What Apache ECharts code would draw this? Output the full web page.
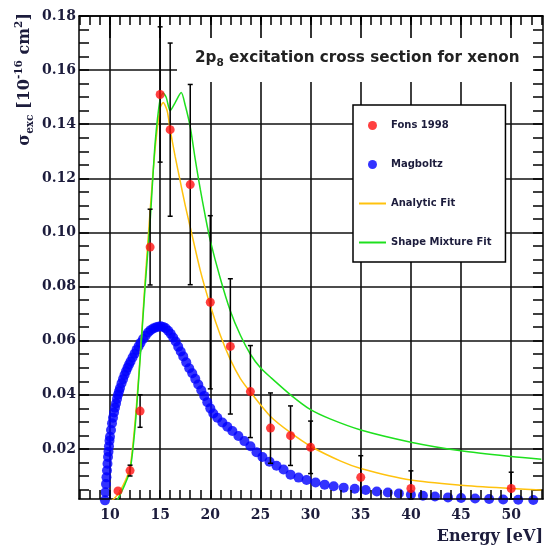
<!DOCTYPE html>
<html>
<head>
    <meta charset="utf-8" />
    <title>2p8 excitation cross section for xenon</title>
    <script src="https://cdn.jsdelivr.net/npm/echarts@6/dist/echarts.min.js"></script>
    <style>
        html, body { margin: 0; padding: 0; background: #fff; }
    </style>
</head>
<body>
    <div id="main" style="width: 547px;height:549px;"></div>
    <script type="text/javascript">
        // Fons 1998 measurement (energy, cross section, error)
        var fonsE = [10.8, 12, 13, 14, 15, 16, 18, 20, 22, 24, 26, 28, 30, 35, 40, 50];
        var fonsS = [0.0045, 0.012, 0.034, 0.0946, 0.151, 0.138, 0.1177, 0.0742, 0.0579, 0.0412, 0.0277, 0.0249, 0.0206, 0.0095, 0.0054, 0.0054];
        var fonsErr = [0, 0.002, 0.006, 0.014, 0.025, 0.032, 0.037, 0.032, 0.025, 0.017, 0.013, 0.011, 0.0097, 0.008, 0.0065, 0.006];

        // Magboltz
        var magE = [9.5, 9.55, 9.6, 9.65, 9.7, 9.75, 9.8, 9.85, 9.9, 9.95, 10.0, 10.1, 10.2, 10.3, 10.4, 10.5, 10.6, 10.7, 10.8, 10.9,
                    11.0, 11.15, 11.3, 11.45, 11.6, 11.75, 11.9, 12.05, 12.25, 12.45, 12.65, 12.85, 13.05, 13.3, 13.55, 13.8, 14.05, 14.3, 14.55, 14.8,
                    15.05, 15.3, 15.55, 15.8, 16.05, 16.3, 16.55, 16.8, 17.05, 17.3, 17.6, 17.9, 18.2, 18.5, 18.8, 19.1, 19.4, 19.7, 20.0, 20.3,
                    20.7, 21.2, 21.7, 22.2, 22.8, 23.4, 24.0, 24.6, 25.2, 25.9, 26.6, 27.3, 28.0, 28.8, 29.6, 30.5, 31.4, 32.3, 33.3, 34.4,
                    35.5, 36.6, 37.7, 38.8, 40.0, 41.2, 42.4, 43.7, 45.0, 46.4, 47.8, 49.2, 50.7, 52.2];
        var magS = [0.001, 0.004, 0.007, 0.0095, 0.012, 0.0145, 0.017, 0.019, 0.021, 0.023, 0.0245, 0.027, 0.0295, 0.0315, 0.0335, 0.0352, 0.0368, 0.0385, 0.040, 0.0413,
                    0.0425, 0.0443, 0.0458, 0.0473, 0.0487, 0.050, 0.0512, 0.0523, 0.0538, 0.0552, 0.0566, 0.0579, 0.0592, 0.0606, 0.0618, 0.063, 0.0639, 0.0645, 0.0649, 0.0652,
                    0.0653, 0.0651, 0.0646, 0.0637, 0.0626, 0.0612, 0.0597, 0.0578, 0.056, 0.0542, 0.052, 0.0498, 0.048, 0.0459, 0.0438, 0.0417, 0.0396, 0.0373, 0.035, 0.0331,
                    0.0315, 0.0298, 0.0282, 0.0266, 0.0248, 0.0229, 0.021, 0.0188, 0.0170, 0.0153, 0.0138, 0.0124, 0.0105, 0.0094, 0.0085, 0.0076, 0.0068, 0.0062, 0.0057, 0.0053,
                    0.0048, 0.0043, 0.0039, 0.0035, 0.0031, 0.0027, 0.0024, 0.0021, 0.0019, 0.0017, 0.0015, 0.0013, 0.0012, 0.0011];

        // Analytic fit
        var anaE = [10.0, 10.5, 11.0, 11.5, 12.0, 12.5, 13.0, 13.5, 14.0, 14.5, 15.0, 15.3, 15.7, 16.0, 16.5, 17.0, 17.5, 18.0, 19.0, 20.0,
                    21.0, 22.0, 23.0, 24.0, 26.0, 28.0, 30.0, 33.0, 35.0, 40.0, 45.0, 50.0, 53.0];
        var anaS = [0.0005, 0.002, 0.0045, 0.008, 0.013, 0.030, 0.054, 0.082, 0.108, 0.131, 0.146, 0.148, 0.145, 0.138, 0.128, 0.119, 0.110, 0.102, 0.086, 0.073,
                    0.062, 0.053, 0.046, 0.041, 0.032, 0.026, 0.021, 0.0155, 0.0128, 0.0085, 0.0066, 0.0054, 0.0048];

        // Shape mixture fit
        var mixE = [10.7, 11.0, 11.5, 12.0, 12.5, 13.0, 13.5, 14.0, 14.5, 15.0, 15.3, 15.6, 16.0, 16.5, 17.1, 17.5, 18.0, 18.5, 19.0, 19.5,
                    20.0, 21.0, 22.0, 23.0, 24.0, 25.0, 26.0, 28.0, 30.0, 32.0, 35.0, 40.0, 45.0, 50.0, 53.0];
        var mixS = [0.001, 0.003, 0.007, 0.012, 0.028, 0.053, 0.080, 0.104, 0.133, 0.1495, 0.1515, 0.150, 0.145, 0.148, 0.1517, 0.147, 0.139, 0.127, 0.116, 0.106,
                    0.097, 0.083, 0.071, 0.062, 0.055, 0.050, 0.0465, 0.040, 0.0345, 0.031, 0.027, 0.0225, 0.0193, 0.0172, 0.0162];

        var xLabels = [10, 15, 20, 25, 30, 35, 40, 45, 50];
        var yLabels = [0.02, 0.04, 0.06, 0.08, 0.10, 0.12, 0.14, 0.16, 0.18];

        var xMin = 6.91, xMax = 53.17, yMin = 0.0015, yMax = 0.18;
        var xMinor = [];
        for (var i = 7; i <= 53; i++) xMinor.push(i);
        var yMinor = [];
        for (var k = 1; k <= 36; k++) yMinor.push(+(k * 0.005).toFixed(3));

        function pairs(a, b) {
            var out = [];
            for (var i = 0; i < a.length; i++) out.push([a[i], b[i]]);
            return out;
        }
        var errData = [];
        for (var j = 0; j < fonsE.length; j++) errData.push([fonsE[j], fonsS[j], fonsErr[j]]);

        var labelColor = '#1c1c3c';
        var lineIcon = 'path://M0,0H27V2H0Z';

        function xAx(extra) {
            var a = {
                type: 'value', min: xMin, max: xMax, z: 3,
                axisLine: { show: false, lineStyle: { color: '#000', width: 1.5 } },
                axisTick: { show: false },
                axisLabel: { show: false },
                splitLine: { show: false }
            };
            for (var key in extra) a[key] = extra[key];
            return a;
        }
        function yAx(extra) {
            var a = {
                type: 'value', min: yMin, max: yMax, z: 3,
                axisLine: { show: false, lineStyle: { color: '#000', width: 1.5 } },
                axisTick: { show: false },
                axisLabel: { show: false },
                splitLine: { show: false }
            };
            for (var key in extra) a[key] = extra[key];
            return a;
        }

        var myChart = echarts.init(document.getElementById('main'));
        var option = {
            animation: false,
            backgroundColor: '#fff',
            title: {
                text: '{a|2p}{s|8}{a| excitation cross section for xenon}',
                left: 177, top: 18,
                backgroundColor: '#fff',
                padding: [29, 15, 13, 18],
                z: 1,
                textStyle: {
                    rich: {
                        a: { fontFamily: 'DejaVu Sans', fontSize: 15.2, color: '#222', lineHeight: 22 },
                        s: { fontFamily: 'DejaVu Sans', fontSize: 10.5, color: '#222', lineHeight: 10, verticalAlign: 'bottom' }
                    }
                }
            },
            legend: {
                orient: 'vertical',
                left: 353, top: 105,
                padding: [15.5, 14, 14.5, 6],
                itemGap: 29,
                itemWidth: 27,
                itemHeight: 9,
                backgroundColor: '#fff',
                borderColor: '#000',
                borderWidth: 1.5,
                textStyle: { fontFamily: 'DejaVu Sans', fontWeight: 'bold', fontSize: 10, color: labelColor },
                data: [
                    { name: 'Fons 1998', icon: 'circle' },
                    { name: 'Magboltz', icon: 'circle' },
                    { name: 'Analytic Fit', icon: lineIcon },
                    { name: 'Shape Mixture Fit', icon: lineIcon }
                ]
            },
            grid: { left: 79, right: 4, top: 16, bottom: 50 },
            graphic: [{
                type: 'text',
                x: 25, y: 13,
                rotation: Math.PI / 2,
                style: {
                    text: '{a|σ}{b|exc}{a| [10}{c|-16}{a| cm}{c|2}{a|]}',
                    align: 'right',
                    verticalAlign: 'middle',
                    rich: {
                        a: { fontFamily: 'DejaVu Serif', fontWeight: 'bold', fontSize: 16, fill: labelColor, lineHeight: 22 },
                        b: { fontFamily: 'DejaVu Serif', fontWeight: 'bold', fontSize: 10.5, fill: labelColor, lineHeight: 10, verticalAlign: 'bottom' },
                        c: { fontFamily: 'DejaVu Serif', fontWeight: 'bold', fontSize: 10.5, fill: labelColor, lineHeight: 10, verticalAlign: 'top' }
                    }
                }
            }],
            xAxis: [
                xAx({
                    position: 'bottom',
                    axisLine: { show: true, lineStyle: { color: '#000', width: 1.5 } },
                    axisTick: { show: true, inside: true, length: 9, customValues: xMinor, lineStyle: { color: '#000', width: 1.5 } },
                    axisLabel: {
                        show: true, customValues: xLabels, margin: 9,
                        fontFamily: 'DejaVu Serif', fontWeight: 'bold', fontSize: 14, color: labelColor
                    },
                    name: 'Energy [eV]',
                    nameLocation: 'end',
                    nameGap: 0,
                    nameTextStyle: {
                        fontFamily: 'DejaVu Serif', fontWeight: 'bold', fontSize: 16, color: labelColor,
                        align: 'right', verticalAlign: 'top', padding: [30, 0, 0, 0]
                    }
                }),
                xAx({
                    position: 'top',
                    axisLine: { show: true, lineStyle: { color: '#000', width: 1.5 } },
                    axisTick: { show: true, inside: true, length: 9, customValues: xMinor, lineStyle: { color: '#000', width: 1.5 } }
                }),
                xAx({
                    position: 'top',
                    axisTick: { show: true, inside: true, length: 22, customValues: xLabels, lineStyle: { color: '#000', width: 1.6 } }
                }),
                xAx({
                    position: 'bottom', z: 0,
                    axisTick: { show: false, customValues: xLabels },
                    splitLine: { show: true, lineStyle: { color: '#111', width: 1.6 } }
                })
            ],
            yAxis: [
                yAx({
                    position: 'left',
                    axisLine: { show: true, lineStyle: { color: '#000', width: 1.5 } },
                    axisTick: { show: true, inside: true, length: 10, customValues: yMinor, lineStyle: { color: '#000', width: 1.5 } },
                    axisLabel: {
                        show: true, customValues: yLabels, margin: 3,
                        fontFamily: 'DejaVu Serif', fontWeight: 'bold', fontSize: 14, color: labelColor,
                        formatter: function (v) { return v.toFixed(2); }
                    }
                }),
                yAx({
                    position: 'right',
                    axisLine: { show: true, lineStyle: { color: '#000', width: 1.5 } },
                    axisTick: { show: true, inside: true, length: 10, customValues: yMinor, lineStyle: { color: '#000', width: 1.5 } }
                }),
                yAx({
                    position: 'left', z: 0,
                    axisTick: { show: false, customValues: yLabels },
                    splitLine: { show: true, lineStyle: { color: '#111', width: 1.6 } }
                })
            ],
            series: [
                {
                    name: 'Magboltz',
                    type: 'scatter',
                    z: 2,
                    clip: false,
                    symbol: 'circle',
                    symbolSize: 10,
                    itemStyle: { color: '#0000ff' },
                    data: pairs(magE, magS)
                },
                {
                    name: 'Analytic Fit',
                    type: 'line',
                    z: 3,
                    symbol: 'none',
                    smooth: 0.25,
                    lineStyle: { color: '#ffc20e', width: 1.5 },
                    itemStyle: { color: '#ffc20e' },
                    data: pairs(anaE, anaS)
                },
                {
                    name: 'Shape Mixture Fit',
                    type: 'line',
                    z: 3,
                    symbol: 'none',
                    smooth: 0.25,
                    lineStyle: { color: '#1ee01e', width: 1.5 },
                    itemStyle: { color: '#1ee01e' },
                    data: pairs(mixE, mixS)
                },
                {
                    name: 'errors',
                    type: 'custom',
                    z: 4,
                    renderItem: function (params, api) {
                        var x = api.value(0), y = api.value(1), e = api.value(2);
                        if (!e) return null;
                        var lo = Math.max(y - e, yMin), hi = Math.min(y + e, yMax);
                        var p1 = api.coord([x, hi]), p2 = api.coord([x, lo]);
                        var w = 2.5;
                        var st = { stroke: '#000', lineWidth: 1.5 };
                        return {
                            type: 'group',
                            children: [
                                { type: 'line', shape: { x1: p1[0], y1: p1[1], x2: p2[0], y2: p2[1] }, style: st },
                                { type: 'line', shape: { x1: p1[0] - w, y1: p1[1], x2: p1[0] + w, y2: p1[1] }, style: st },
                                { type: 'line', shape: { x1: p2[0] - w, y1: p2[1], x2: p2[0] + w, y2: p2[1] }, style: st }
                            ]
                        };
                    },
                    encode: { x: 0, y: 1 },
                    data: errData
                },
                {
                    name: 'Fons 1998',
                    type: 'scatter',
                    z: 5,
                    symbol: 'circle',
                    symbolSize: 9,
                    itemStyle: { color: '#ff1010' },
                    data: pairs(fonsE, fonsS)
                }
            ]
        };
        myChart.setOption(option);
    </script>
</body>
</html>
